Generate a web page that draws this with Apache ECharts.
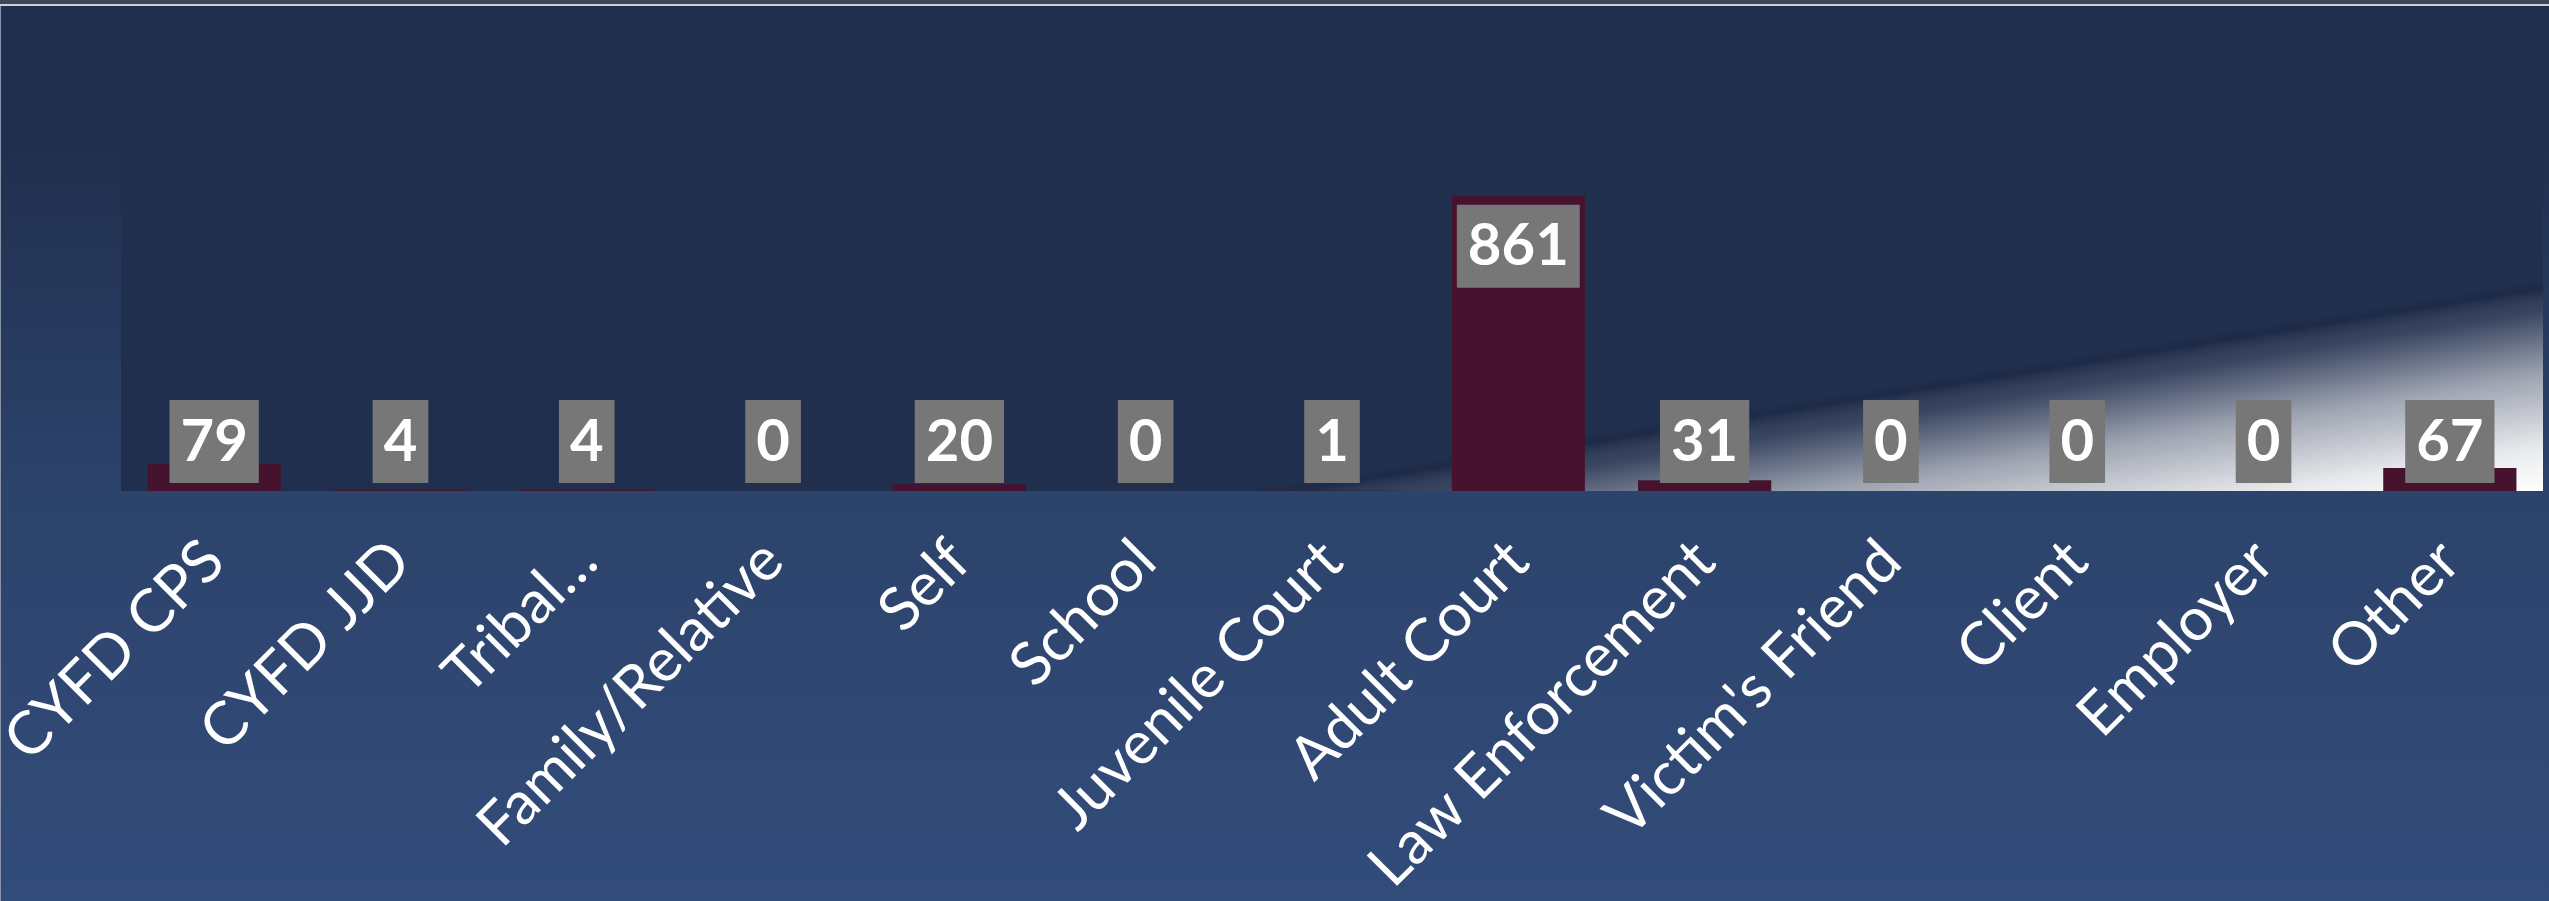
<!DOCTYPE html>
<html>
<head>
<meta charset="utf-8">
<script src="https://cdn.jsdelivr.net/npm/echarts@6/dist/echarts.min.js"></script>
<style>
  html, body { margin: 0; padding: 0; background: #212f4e; }
  #chart { width: 2549px; height: 901px; }
</style>
</head>
<body>
<div id="chart"></div>
<script>
const categories = [
  'CYFD CPS', 'CYFD JJD', 'Tribal…', 'Family/Relative', 'Self', 'School',
  'Juvenile Court', 'Adult Court', 'Law Enforcement', 'Victim\'s Friend',
  'Client', 'Employer', 'Other'
]
const referrals = [79, 4, 4, 0, 20, 0, 1, 861, 31, 0, 0, 0, 67]
const yMax = 1000

const chart = echarts.init(document.getElementById('chart'))

// big bars carry their label at the top, small ones sit on the axis
const barData = referrals.map((v) => {
  const tall = v > 200
  return {
    value: v,
    label: {
      position: tall ? 'insideTop' : 'insideBottom',
      distance: tall ? 9 : 8
    }
  }
})

const option = {
  animation: false,
  backgroundColor: {
    type: 'linear', x: 0, y: 0, x2: 0, y2: 1,
    colorStops: [
      { offset: 0, color: '#212f4e' },
      { offset: 0.16, color: '#212f4e' },
      { offset: 0.55, color: '#2c436b' },
      { offset: 1, color: '#324c7a' }
    ]
  },
  grid: {
    left: 121,
    right: 6,
    top: 148,
    bottom: 410,
    show: true,
    backgroundColor: '#212f4e',
    borderWidth: 0,
    containLabel: false,
    outerBoundsMode: 'none'
  },
  graphic: [
    { type: 'rect', shape: { x: 0, y: 0, width: 2549, height: 4 }, style: { fill: '#3f4559' }, z: 10 },
    { type: 'rect', shape: { x: 0, y: 4, width: 2549, height: 2 }, style: { fill: '#cfd0d4' }, z: 10 },
    { type: 'rect', shape: { x: 0, y: 6, width: 1, height: 895 }, style: { fill: '#8a93a8' }, z: 10 },
    {
      // light sheen in the lower right of the plot
      type: 'polygon',
      z: 1,
      shape: { points: [[1250, 491], [2543, 280], [2543, 491]] },
      style: {
        fill: {
          type: 'linear', global: true, x: 2509, y: 281, x2: 2543, y2: 491,
          colorStops: [
            { offset: 0, color: 'rgba(14,22,42,0)' },
            { offset: 0.06, color: 'rgba(14,22,42,0.18)' },
            { offset: 0.16, color: 'rgba(255,255,255,0.1)' },
            { offset: 0.45, color: 'rgba(255,255,255,0.55)' },
            { offset: 0.8, color: 'rgba(255,255,255,0.9)' },
            { offset: 1, color: '#ffffff' }
          ]
        }
      }
    }
  ],
  xAxis: {
    type: 'category',
    data: categories,
    axisLine: { show: false },
    axisTick: { show: false },
    axisLabel: {
      interval: 0,
      rotate: 45,
      margin: 60,
      color: '#ffffff',
      fontFamily: 'Lato, "Open Sans", sans-serif',
      fontSize: 60
    }
  },
  yAxis: {
    type: 'value',
    min: 0,
    max: yMax,
    show: false,
    splitLine: { show: false }
  },
  series: [
    {
      type: 'bar',
      z: 3,
      data: barData,
      barCategoryGap: '28.5%',
      itemStyle: { color: '#46132f' },
      label: {
        show: true,
        color: '#ffffff',
        fontFamily: 'Lato, "Open Sans", sans-serif',
        fontWeight: 'bold',
        fontSize: 58,
        lineHeight: 58,
        backgroundColor: '#777777',
        padding: [13, 11, 12, 11]
      }
    }
  ]
}

chart.setOption(option)
</script>
</body>
</html>
